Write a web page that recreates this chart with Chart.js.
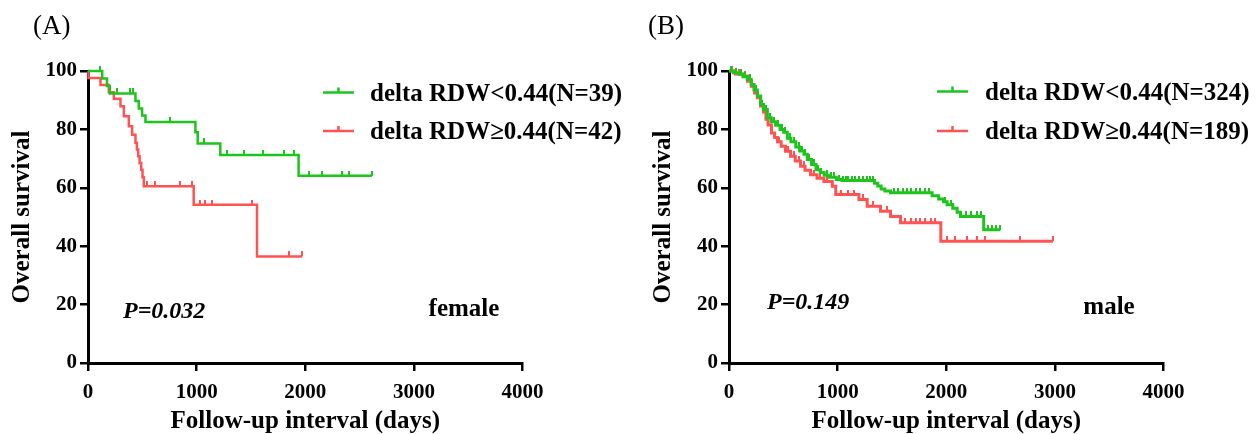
<!DOCTYPE html>
<html lang="en">
<head>
<meta charset="UTF-8" />
<title>Overall survival by delta RDW</title>
<script src="https://cdn.jsdelivr.net/npm/chart.js@4.4.1/dist/chart.umd.min.js"></script>
<style>
  html, body { margin: 0; padding: 0; background: #fff; }
  .panel { position: absolute; top: 0; height: 434px; }
  #panelA { left: 0; width: 628px; }
  #panelB { left: 641px; width: 616px; }
</style>
</head>
<body>
<div class="panel" id="panelA"><canvas id="chartA"></canvas></div>
<div class="panel" id="panelB"><canvas id="chartB"></canvas></div>

<script>
  // axis ticks
  const xTickValues = [0, 1000, 2000, 3000, 4000];
  const yTickValues = [0, 20, 40, 60, 80, 100];

  // (A) female, delta RDW<0.44 (N=39)
  const femaleLowTime = [0, 131, 175, 200, 437, 468, 498, 529, 989, 1010, 1218, 1939, 2613];
  const femaleLowSurv = [100, 97.4, 94.9, 92.3, 89.7, 87.2, 84.8, 82.5, 79.0, 75.2, 71.2, 64.1, 64.1];
  const femaleLowCensor = [115, 268, 391, 415, 753, 1071, 1280, 1433, 1611, 1807, 1893, 2031, 2153, 2337, 2407, 2613];

  // (A) female, delta RDW>=0.44 (N=42)
  const femaleHighTime = [0, 5, 115, 192, 238, 299, 330, 376, 406, 437, 450, 462, 475, 490, 502, 514, 973, 1556, 1970];
  const femaleHighSurv = [100, 97.6, 95.2, 92.7, 90.5, 87.9, 84.5, 81.1, 78.2, 75.4, 73.1, 70.8, 68.5, 66.2, 63.6, 60.5, 54.2, 36.5, 36.5];
  const femaleHighCensor = [544, 621, 851, 958, 1034, 1080, 1142, 1510, 1847, 1970];

  // (B) male, delta RDW<0.44 (N=324)
  const maleLowTime = [0, 40, 93, 130, 168, 205, 230, 261, 292, 317, 353, 390, 429, 470, 503, 537, 570, 615, 650, 690, 721, 760, 801, 840, 876, 920, 988, 1040, 1340, 1370, 1400, 1435, 1487, 1870, 1930, 1975, 2008, 2060, 2100, 2131, 2345, 2498];
  const maleLowSurv = [100, 99.4, 98.9, 98.0, 97.1, 95.4, 93.5, 91.4, 88.5, 86.8, 84.0, 82.6, 81.4, 80.0, 79.0, 77.0, 75.8, 74.0, 72.6, 71.5, 69.7, 68.0, 66.2, 65.2, 64.3, 63.6, 62.8, 62.5, 61.6, 60.6, 59.6, 58.9, 58.3, 57.3, 56.2, 55.2, 54.2, 53.0, 51.6, 50.2, 45.6, 45.6];
  const maleLowCensor = [20, 60, 110, 150, 190, 250, 300, 340, 380, 410, 450, 490, 520, 560, 600, 640, 670, 700, 740, 780, 820, 850, 900, 940, 970, 1010, 1050, 1080, 1100, 1130, 1160, 1200, 1230, 1270, 1300, 1330, 1520, 1560, 1600, 1640, 1680, 1720, 1760, 1800, 1840, 1990, 2040, 2060, 2100, 2180, 2230, 2280, 2320, 2380, 2420, 2460, 2498];

  // (B) male, delta RDW>=0.44 (N=189)
  const maleHighTime = [0, 60, 130, 170, 205, 235, 261, 290, 317, 340, 360, 391, 420, 447, 480, 520, 567, 610, 659, 700, 751, 810, 874, 951, 983, 1196, 1272, 1395, 1487, 1579, 1950, 2982];
  const maleHighSurv = [100, 99.0, 98.3, 96.5, 94.8, 92.5, 90.8, 88.0, 86.0, 83.5, 81.5, 78.8, 77.2, 75.8, 74.2, 72.5, 70.8, 69.2, 67.4, 66.0, 64.5, 63.3, 62.2, 60.5, 57.7, 56.0, 53.7, 52.0, 50.2, 48.0, 41.7, 41.7];
  const maleHighCensor = [30, 90, 150, 270, 400, 460, 540, 600, 640, 690, 780, 840, 900, 1030, 1100, 1150, 1230, 1330, 1450, 1620, 1680, 1720, 1760, 1800, 1860, 1900, 2008, 2085, 2192, 2284, 2361, 2682, 2982];

  const GREEN = "rgb(28,196,28)";
  const RED = "rgb(255,82,82)";
  const SERIF = '"Liberation Serif", "Times New Roman", serif';

  const survAt = (times, survs, t) => {
    let s = survs[0];
    for (let i = 0; i < times.length; i++) {
      if (times[i] <= t) s = survs[i];
    }
    return s;
  };

  // small upward censor tick, centred image so the mark sits on top of the curve
  const tickImage = (color) => {
    const c = document.createElement("canvas");
    c.width = 2;
    c.height = 10;
    const g = c.getContext("2d");
    g.fillStyle = color;
    g.fillRect(0, 0, 2, 5);
    return c;
  };

  const kmDatasets = (label, color, lw, times, survs, censors) => [
    {
      label: label,
      data: times.map((t, i) => ({ x: t, y: survs[i] })),
      borderColor: color,
      backgroundColor: color,
      borderWidth: lw,
      stepped: true,
      pointRadius: 0,
      fill: false,
      clip: false,
    },
    {
      label: label + " censored",
      censor: true,
      data: censors.map((t) => ({ x: t, y: survAt(times, survs, t) })),
      showLine: false,
      pointStyle: tickImage(color),
      pointRadius: 5,
      borderColor: color,
      backgroundColor: color,
      clip: false,
    },
  ];

  const kmDecor = {
    id: "kmDecor",
    afterDraw(chart, args, o) {
      const ctx = chart.ctx;
      ctx.save();
      ctx.fillStyle = "#000";

      ctx.font = "27px " + SERIF;
      ctx.textAlign = "left";
      ctx.textBaseline = "middle";
      ctx.fillText(o.panel, o.panelX, o.panelY);

      // legend
      let row = 0;
      chart.data.datasets.forEach((ds) => {
        if (ds.censor) return;
        const y = o.legendY + row * o.legendGap;
        ctx.strokeStyle = ds.borderColor;
        ctx.lineWidth = 2.5;
        ctx.beginPath();
        ctx.moveTo(o.lineX, y);
        ctx.lineTo(o.lineX + 31, y);
        ctx.moveTo(o.lineX + 15.5, y);
        ctx.lineTo(o.lineX + 15.5, y - 5);
        ctx.stroke();
        ctx.fillStyle = "#000";
        ctx.font = "bold 25px " + SERIF;
        ctx.textBaseline = "alphabetic";
        ctx.fillText(ds.label, o.textX, y + 8);
        row++;
      });

      ctx.font = "italic bold 24px " + SERIF;
      ctx.textAlign = "left";
      ctx.fillText(o.pText, o.pX, o.pY);

      ctx.font = "bold 25px " + SERIF;
      ctx.textAlign = "center";
      ctx.fillText(o.sexText, o.sexX, o.sexY);
      ctx.restore();
    },
  };

  const tickFont = { family: SERIF, size: 21, weight: "bold" };
  const titleFont = { family: SERIF, size: 25, weight: "bold", lineHeight: 1.0 };

  const makeChart = (canvasId, width, datasets, decor) =>
    new Chart(document.getElementById(canvasId).getContext("2d"), {
      type: "line",
      data: { datasets: datasets },
      plugins: [kmDecor],
      options: {
        responsive: true,
        maintainAspectRatio: false,
        animation: false,
        layout: { padding: { left: 0, top: 71, right: width - 522.5, bottom: 0 } },
        plugins: {
          legend: { display: false },
          tooltip: { enabled: false },
          kmDecor: decor,
        },
        scales: {
          x: {
            type: "linear",
            min: 0,
            max: 4000,
            afterBuildTicks: (s) => { s.ticks = xTickValues.map((v) => ({ value: v })); },
            afterFit: (s) => { s.height = 71; },
            border: { display: true, color: "#000", width: 3 },
            grid: { drawOnChartArea: false, drawTicks: true, tickLength: 8, lineWidth: 2.5, color: "#000" },
            ticks: { color: "#000", font: tickFont, padding: 9, maxRotation: 0, autoSkip: false, callback: (v) => String(v) },
            title: { display: true, text: "Follow-up interval (days)", color: "#000", font: titleFont, padding: { top: 0, bottom: 0 } },
          },
          y: {
            type: "linear",
            min: 0,
            max: 100,
            afterBuildTicks: (s) => { s.ticks = yTickValues.map((v) => ({ value: v })); },
            afterFit: (s) => { s.width = 88; },
            border: { display: true, color: "#000", width: 3 },
            grid: { drawOnChartArea: false, drawTicks: true, tickLength: 8, lineWidth: 2.5, color: "#000" },
            ticks: { color: "#000", font: tickFont, padding: 3, callback: (v) => String(v) },
            title: { display: true, text: "Overall survival", color: "#000", font: titleFont, padding: { top: 10, bottom: 0 } },
          },
        },
      },
    });

  makeChart(
    "chartA",
    628,
    [
      ...kmDatasets("delta RDW<0.44(N=39)", GREEN, 2.5, femaleLowTime, femaleLowSurv, femaleLowCensor),
      ...kmDatasets("delta RDW\u22650.44(N=42)", RED, 2.5, femaleHighTime, femaleHighSurv, femaleHighCensor),
    ],
    {
      panel: "(A)", panelX: 33, panelY: 27,
      lineX: 323, textX: 370, legendY: 92.5, legendGap: 38.5,
      pText: "P=0.032", pX: 123, pY: 318,
      sexText: "female", sexX: 464, sexY: 316,
    }
  );

  makeChart(
    "chartB",
    616,
    [
      ...kmDatasets("delta RDW<0.44(N=324)", GREEN, 3, maleLowTime, maleLowSurv, maleLowCensor),
      ...kmDatasets("delta RDW\u22650.44(N=189)", RED, 3, maleHighTime, maleHighSurv, maleHighCensor),
    ],
    {
      panel: "(B)", panelX: 7, panelY: 27,
      lineX: 296, textX: 344, legendY: 91.5, legendGap: 39.5,
      pText: "P=0.149", pX: 126, pY: 309,
      sexText: "male", sexX: 468, sexY: 314,
    }
  );
</script>
</body>
</html>
